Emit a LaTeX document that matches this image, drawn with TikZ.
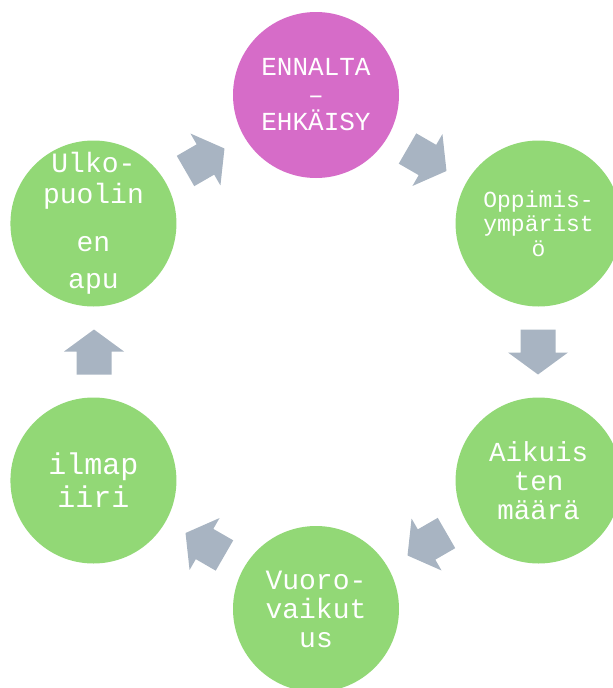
\documentclass[tikz,border=0pt]{standalone}
\usepackage{fontspec}
\usetikzlibrary{calc}
\newfontfamily\cmono{Liberation Mono}
\definecolor{cgreen}{RGB}{146,216,118}
\definecolor{cpink}{RGB}{214,108,200}
\definecolor{carrow}{RGB}{168,180,194}
\tikzset{
  bub/.style={circle, minimum size=166pt, inner sep=0pt, text=white, align=center},
  gbub/.style={bub, fill=cgreen},
  pbub/.style={bub, fill=cpink},
  blockarrow/.style={fill=carrow}
}
\begin{document}
\begin{tikzpicture}[x=1pt,y=1pt]
\useasboundingbox (0,0) rectangle (613,-688);
\clip (0,0) rectangle (613,-688);
\coordinate (C) at (316,-352);
% circles
\node[pbub, font=\fontsize{26}{27.5}\selectfont\cmono] (n1) at ($(C)+(90:257)$) {ENNALTA\\–\\EHKÄISY};
\node[gbub, font=\fontsize{23}{24.5}\selectfont\cmono] (n2) at ($(C)+(30:257)$) {Oppimis-\\ympärist\\ö};
\node[gbub, font=\fontsize{27.5}{29}\selectfont\cmono] (n3) at ($(C)+(-30:257)$) {Aikuis\\ten\\määrä};
\node[gbub, font=\fontsize{28}{29}\selectfont\cmono] (n4) at ($(C)+(-90:257)$) {Vuoro-\\vaikut\\us};
\node[gbub, font=\fontsize{30}{33}\selectfont\cmono] (n5) at ($(C)+(-150:257)$) {ilmap\\iiri};
\node[gbub, inner sep=-40pt, font=\fontsize{28}{31}\selectfont\cmono] (n6) at ($(C)+(150:257)$) {Ulko-\\puolin\\[17pt]en\\[6pt]apu};
% block arrows
\foreach \a in {60,0,-60,-120,180,120}{
  \begin{scope}[shift={($(C)+(\a:222)$)}, rotate=\a-90]
    \fill[blockarrow] (-22.5,-17.5) -- (0.5,-17.5) -- (0.5,-30) -- (22.5,0)
      -- (0.5,30) -- (0.5,17.5) -- (-22.5,17.5) -- cycle;
  \end{scope}
}
\end{tikzpicture}
\end{document}
